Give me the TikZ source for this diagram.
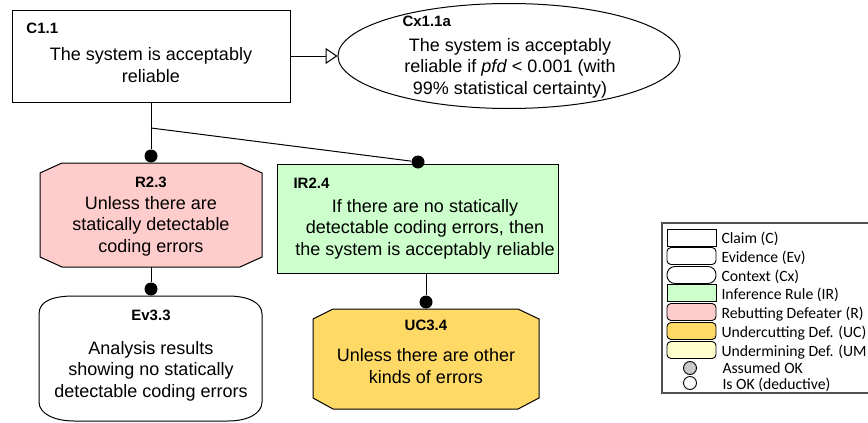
\documentclass[tikz,border=0pt]{standalone}
\usepackage{fontspec}
\setmainfont{Liberation Sans}
\newfontfamily\legfont{Carlito}
\usetikzlibrary{arrows.meta,shapes.geometric}
\definecolor{rpink}{HTML}{FFCCCC}
\definecolor{irgreen}{HTML}{CCFFCC}
\definecolor{ucgold}{HTML}{FFD966}
\definecolor{umyellow}{HTML}{FFFFCC}
\definecolor{okgray}{HTML}{C8C8C8}
\definecolor{legline}{HTML}{505050}
\begin{document}
\begin{tikzpicture}[x=1pt,y=-1pt,line width=1pt,
  body/.style={font=\fontsize{18}{21.5}\selectfont,align=center,inner sep=0pt,anchor=base},
  ttl/.style={font=\fontsize{15}{18}\selectfont\bfseries,inner sep=0pt,anchor=base},
  blob/.style={circle,fill=black,inner sep=0pt,minimum size=13pt},
  leg/.style={font=\legfont\fontsize{15.7}{18}\selectfont,anchor=base west,inner sep=0pt},
  sw/.style={draw,line width=0.9pt,minimum width=49pt,minimum height=17pt,inner sep=0pt},
  okc/.style={draw,circle,line width=0.9pt,minimum size=13pt,inner sep=0pt},
  link/.style={line width=1pt}]
\useasboundingbox (0,0) rectangle (868,423);
% C1.1
\node[draw,minimum width=278pt,minimum height=92pt,inner sep=0pt] (c11) at (151,56) {};
\node[ttl,anchor=base west] (c11t) at (26,33) {C1.1};
\node[body] (c11b) at (151,82) {The system is acceptably\\reliable};
% Cx1.1a
\node[draw,ellipse,minimum width=342pt,minimum height=105pt,inner sep=0pt] (cx) at (509,56) {};
\node[ttl,anchor=base west] (cxt) at (402,27) {Cx1.1a};
\node[body] (cxb) at (510,94) {The system is acceptably\\reliable if \textit{pfd} < 0.001 (with\\99\% statistical certainty)};
\draw[link,-{Triangle[fill=white,length=12pt,width=16pt]}] (c11) -- (cx);
% R2.3
\path[draw,fill=rpink] (62,163) -- (240,163) -- (262,173) -- (262,257) -- (240,267) -- (62,267) -- (40,257) -- (40,173) -- cycle;
\coordinate (r23top) at (151,163);
\coordinate (r23bot) at (151,267);
\node[ttl] (r23t) at (151,187) {R2.3};
\node[body] (r23b) at (151,252) {Unless there are\\statically detectable\\coding errors};
% IR2.4
\node[draw,fill=irgreen,minimum width=281pt,minimum height=109pt,inner sep=0pt] (ir) at (417.5,218.5) {};
\node[ttl,anchor=base west] (irt) at (293,188) {IR2.4};
\node[body] (irb) at (425,255) {If there are no statically\\detectable coding errors, then\\the system is acceptably reliable};
% Ev3.3
\path[draw,fill=white] (39,402) -- (39,314) .. controls (39,300) and (55,296) .. (74,296) -- (228,296) .. controls (247,296) and (262,302) .. (262,314) -- (262,402) .. controls (262,414) and (247,421) .. (228,421) -- (74,421) .. controls (55,421) and (39,414) .. (39,402) -- cycle;
\coordinate (evtop) at (151,296);
\node[ttl] (evt) at (151,320) {Ev3.3};
\node[body] (evb) at (151,397) {Analysis results\\showing no statically\\detectable coding errors};
% UC3.4
\path[draw,fill=ucgold] (333,309) -- (518,309) -- (539,319) -- (539,398) -- (518,409) -- (333,409) -- (313,398) -- (313,319) -- cycle;
\coordinate (uctop) at (426,309);
\node[ttl] (uct) at (426,330) {UC3.4};
\node[body] (ucb) at (426,383) {Unless there are other\\kinds of errors};
% connectors
\node[blob] (d1) at (151,156) {};
\node[blob] (d2) at (418,162) {};
\node[blob] (d3) at (151,289) {};
\node[blob] (d4) at (426,302) {};
\coordinate (br) at (151,128);
\draw[link] (c11.south) -- (d1);
\draw[link] (br) -- (d2);
\draw[link] (r23bot) -- (d3);
\draw[link] (ir.south -| d4) -- (d4);
% Legend
\draw[legline,line width=1.6pt] (872,223) -- (662,223) -- (662,393) -- (872,393);
\node[sw] (l1) at (691.5,237.5) {};
\node[sw,rounded corners=4pt] (l2) at (691.5,256) {};
\node[sw,rounded corners=8pt] (l3) at (691.5,275) {};
\node[sw,fill=irgreen] (l4) at (691.5,293) {};
\node[sw,fill=rpink,rounded corners=4pt] (l5) at (691.5,312) {};
\node[sw,fill=ucgold,rounded corners=4pt] (l6) at (691.5,331) {};
\node[sw,fill=umyellow,rounded corners=4pt] (l7) at (691.5,350) {};
\node[okc,fill=okgray] (l8) at (690,368) {};
\node[okc,fill=white] (l9) at (690,383) {};
\node[leg] (t1) at (721,243) {Claim (C)};
\node[leg] (t2) at (721,262) {Evidence (Ev)};
\node[leg] (t3) at (721,281) {Context (Cx)};
\node[leg] (t4) at (721,299) {Inference Rule (IR)};
\node[leg] (t5) at (721,318) {Rebutting Defeater (R)};
\node[leg] (t6) at (721,337) {Undercutting Def. (UC)};
\node[leg] (t7) at (721,356) {Undermining Def. (UM};
\node[leg] (t8) at (722,373) {Assumed OK};
\node[leg] (t9) at (722,389) {Is OK (deductive)};
\end{tikzpicture}
\end{document}
